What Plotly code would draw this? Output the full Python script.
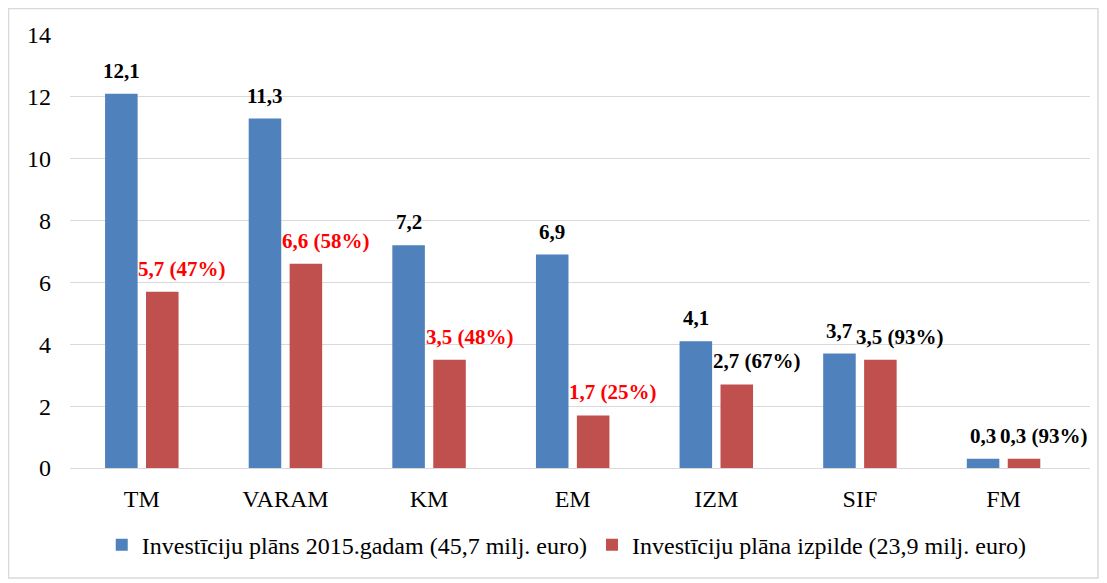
import plotly.graph_objects as go

categories = ["TM", "VARAM", "KM", "EM", "IZM", "SIF", "FM"]
plan_values = [12.1, 11.3, 7.2, 6.9, 4.1, 3.7, 0.3]
exec_values = [5.7, 6.6, 3.5, 1.7, 2.7, 3.5, 0.3]
exec_pct = [47, 58, 48, 25, 67, 93, 93]
exec_label_red = [True, True, True, True, False, False, False]
y_ticks = [0, 2, 4, 6, 8, 10, 12, 14]

name_plan = "Investīciju plāns 2015.gadam (45,7 milj. euro)"
name_exec = "Investīciju plāna izpilde (23,9 milj. euro)"

BLUE = "#4F81BD"
RED = "#C0504D"
FONT = "Liberation Serif, Times New Roman, serif"

def fmt(v):
    return f"{v:.1f}".replace(".", ",")

fig = go.Figure()
fig.add_trace(go.Bar(x=categories, y=plan_values, name=name_plan, marker=dict(color=BLUE, line=dict(width=0))))
fig.add_trace(go.Bar(x=categories, y=exec_values, name=name_exec, marker=dict(color=RED, line=dict(width=0))))

annotations = []
off = 0.1424
for i, c in enumerate(categories):
    annotations.append(dict(x=i - off, y=plan_values[i], xref="x", yref="y",
                            text=f"<b>{fmt(plan_values[i])}</b>", showarrow=False,
                            yanchor="bottom", yshift=9,
                            font=dict(family=FONT, size=21, color="black")))
    col = "#FF0000" if exec_label_red[i] else "black"
    annotations.append(dict(x=i + off, y=exec_values[i], xref="x", yref="y",
                            text=f"<b>{fmt(exec_values[i])} ({exec_pct[i]}%)</b>", showarrow=False,
                            yanchor="bottom", yshift=9, xshift=20,
                            font=dict(family=FONT, size=21, color=col)))

# page body has an 8px margin; the figure is sized to fit the window
W, H = 1099, 575
L, R, T, B = 62, 17, 27, 115
pw, ph = W - L - R, H - T - B
bx0, bx1, by0, by1 = 0.5, 1090, 0.5, 570

fig.update_layout(
    width=W, height=H,
    margin=dict(l=L, r=R, t=T, b=B),
    paper_bgcolor="white", plot_bgcolor="white",
    barmode="group", bargap=0.43, bargroupgap=0.205,
    font=dict(family=FONT, size=24, color="black"),
    showlegend=True,
    legend=dict(orientation="h", x=0.487, xanchor="center", y=-0.178, yanchor="middle",
                font=dict(family=FONT, size=24, color="black"), itemwidth=30,
                traceorder="normal", bgcolor="rgba(0,0,0,0)"),
    annotations=annotations,
    shapes=[dict(type="rect", xref="paper", yref="paper",
                 x0=(bx0 - L) / pw, x1=(bx1 - L) / pw,
                 y0=(H - B - by1) / ph, y1=(H - B - by0) / ph,
                 line=dict(color="#D9D9D9", width=1.5), fillcolor="rgba(0,0,0,0)")],
)
fig.update_yaxes(range=[0, 14], tickvals=y_ticks, showgrid=True, gridcolor="#D9D9D9",
                 gridwidth=1, zeroline=False, showline=False, ticks="",
                 ticklabelstandoff=18, tickfont=dict(family=FONT, size=24))
fig.update_xaxes(showline=True, linecolor="#D9D9D9", linewidth=1, ticks="",
                 ticklabelstandoff=9, tickfont=dict(family=FONT, size=24))

fig.write_html("out.html")
